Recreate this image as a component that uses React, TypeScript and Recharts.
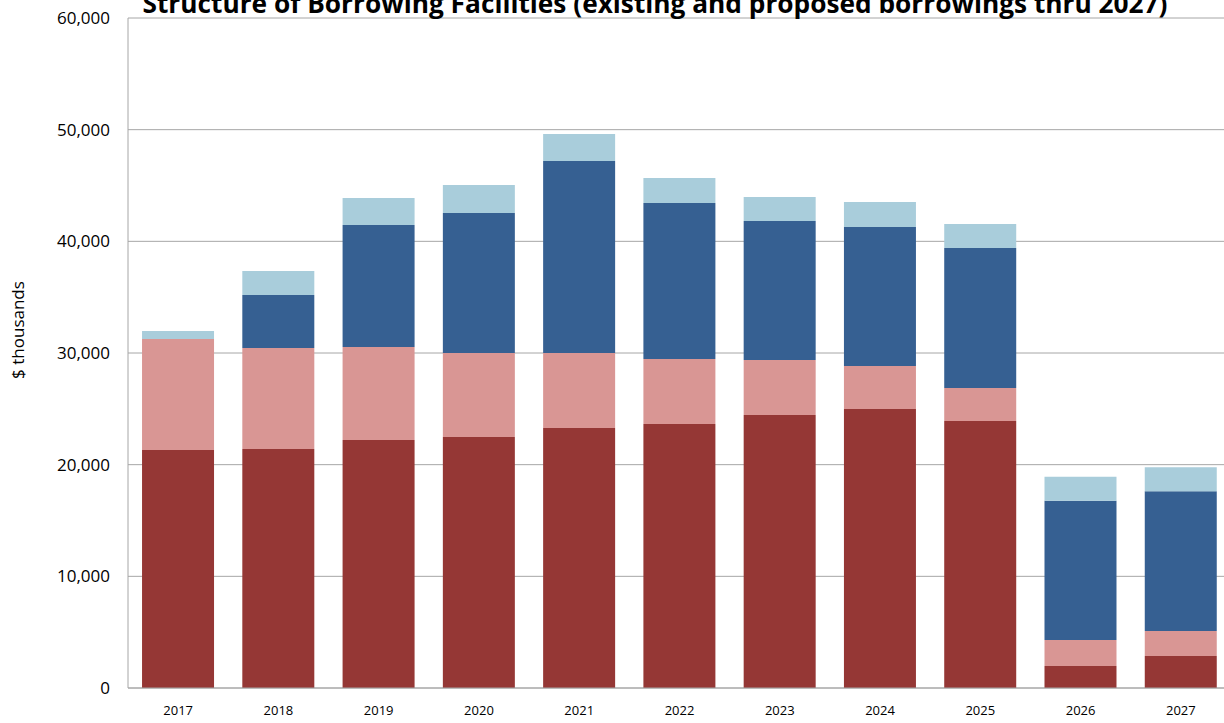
import React from "react";
import {
  BarChart, Bar, XAxis, YAxis, CartesianGrid,
} from "recharts";

// Borrowing facilities by year, $ thousands
const YEARS = ["2017", "2018", "2019", "2020", "2021", "2022", "2023", "2024", "2025", "2026", "2027"];
const EXISTING_FIXED    = [21310, 21400, 22210, 22480, 23280, 23640, 24450, 24980, 23910, 1970, 2870];
const EXISTING_VARIABLE = [9940, 9050, 8330, 7520, 6720, 5820, 4920, 3850, 2960, 2330, 2240];
const PROPOSED_FIXED    = [0, 4750, 10930, 12540, 17190, 13970, 12450, 12450, 12540, 12470, 12510];
const PROPOSED_OTHER    = [720, 2150, 2420, 2510, 2420, 2240, 2150, 2240, 2150, 2150, 2150];
const Y_TICKS = [0, 10000, 20000, 30000, 40000, 50000, 60000];

const COLORS = {
  existingFixed:    "#953735",
  existingVariable: "#D99694",
  proposedFixed:    "#366092",
  proposedOther:    "#A9CDDB",
};

const data = YEARS.map((year, i) => ({
  year,
  existingFixed: EXISTING_FIXED[i],
  existingVariable: EXISTING_VARIABLE[i],
  proposedFixed: PROPOSED_FIXED[i],
  proposedOther: PROPOSED_OTHER[i],
}));

const FONT = "'Open Sans', sans-serif";
const GRID = "#a6a6a6";

export default function App() {
  return (
    <div
      style={{
        position: "absolute", left: 0, top: 0,
        width: 1224, height: 723, overflow: "hidden",
        background: "#fff", fontFamily: FONT,
      }}
    >
      <BarChart
        width={1240}
        height={723}
        data={data}
        margin={{ top: 18, right: 9, bottom: 5, left: 68 }}
        barCategoryGap="14%"
      >
        <CartesianGrid vertical={false} stroke={GRID} strokeWidth={1} />
        <XAxis
          dataKey="year"
          height={30}
          tickLine={false}
          axisLine={{ stroke: GRID }}
          tick={{ fontSize: 13, fill: "#000", fontFamily: FONT }}
          tickMargin={12}
        />
        <YAxis
          width={60}
          domain={[0, 60000]}
          ticks={Y_TICKS}
          tickLine={false}
          axisLine={{ stroke: GRID }}
          tick={{ fontSize: 17, fill: "#000", fontFamily: FONT }}
          tickMargin={12}
          tickFormatter={(v: number) => v.toLocaleString("en-US")}
        />
        <Bar dataKey="existingFixed" stackId="a" fill={COLORS.existingFixed} isAnimationActive={false} />
        <Bar dataKey="existingVariable" stackId="a" fill={COLORS.existingVariable} isAnimationActive={false} />
        <Bar dataKey="proposedFixed" stackId="a" fill={COLORS.proposedFixed} isAnimationActive={false} />
        <Bar dataKey="proposedOther" stackId="a" fill={COLORS.proposedOther} isAnimationActive={false} />
      </BarChart>

      {/* title (cropped at the top, as in the source) and axis title */}
      <svg
        width={1224}
        height={723}
        style={{ position: "absolute", left: 0, top: 0, pointerEvents: "none" }}
      >
        <text
          x={655}
          y={13}
          textAnchor="middle"
          fontFamily={FONT}
          fontWeight={700}
          fontSize={26}
          textLength={1025}
          lengthAdjust="spacingAndGlyphs"
          fill="#000"
        >
          Structure of Borrowing Facilities (existing and proposed borrowings thru 2027)
        </text>
        <text
          x={17}
          y={330}
          transform="rotate(-90 17 330)"
          textAnchor="middle"
          dominantBaseline="central"
          fontFamily={FONT}
          fontSize={17}
          fill="#000"
        >
          $ thousands
        </text>
      </svg>
    </div>
  );
}
